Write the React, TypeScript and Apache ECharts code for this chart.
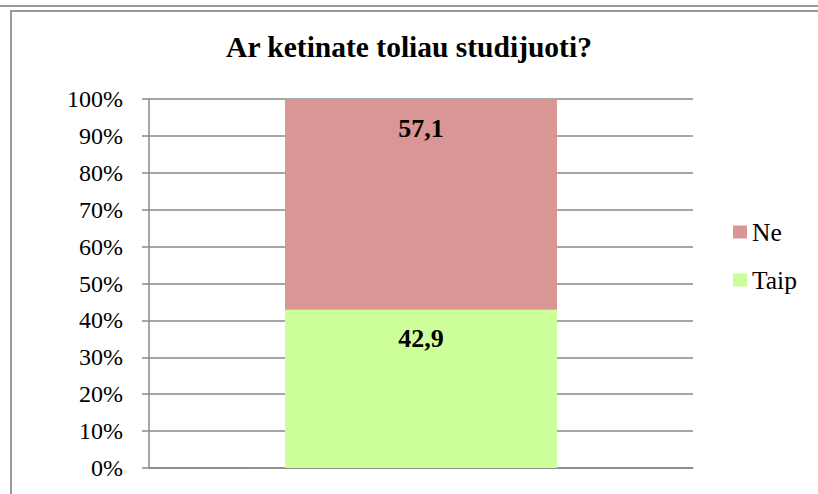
import React, { useEffect, useRef } from "react";
import * as echarts from "echarts";

const categories = [""];
const seriesNames = ["Taip", "Ne"];
const taipValues = [42.9];
const neValues = [57.1];
const legendOrder = ["Ne", "Taip"];
const titleText = "Ar ketinate toliau studijuoti?";

const FONT = "Liberation Serif";
const GRAY = "#888888";

export default function App() {
  const ref = useRef<HTMLDivElement>(null);
  useEffect(() => {
    document.body.style.margin = "0";
    const chart = echarts.init(ref.current!, null, { renderer: "svg" });
    const fmt = (p: any) => String(p.value).replace(".", ",");
    chart.setOption({
      animation: false,
      backgroundColor: "#ffffff",
      textStyle: { fontFamily: FONT },
      title: {
        text: titleText,
        left: "center",
        top: 32,
        padding: 0,
        textStyle: { fontFamily: FONT, fontSize: 29.5, fontWeight: "bold", color: "#000" },
      },
      legend: {
        data: legendOrder,
        orient: "vertical",
        left: 733,
        top: 219,
        padding: 0,
        icon: "rect",
        itemWidth: 14,
        itemHeight: 13,
        itemGap: 22,
        textStyle: { fontFamily: FONT, fontSize: 25.5, color: "#000", lineHeight: 24 },
      },
      grid: { left: 149, right: 125, top: 99, bottom: 26, containLabel: false },
      xAxis: {
        type: "category",
        data: categories,
        axisLine: { show: true, lineStyle: { color: GRAY, width: 1.5 } },
        axisTick: { show: false },
        axisLabel: { show: false },
      },
      yAxis: {
        type: "value",
        min: 0,
        max: 100,
        interval: 10,
        axisLine: { show: true, lineStyle: { color: GRAY, width: 1.5 } },
        axisTick: { show: true, length: 7, lineStyle: { color: GRAY, width: 1.5 } },
        axisLabel: {
          formatter: "{value}%",
          margin: 26,
          fontFamily: FONT,
          fontSize: 24,
          color: "#000",
        },
        splitLine: { show: true, lineStyle: { color: GRAY, width: 1.5 } },
      },
      series: [
        {
          name: seriesNames[0],
          type: "bar",
          stack: "total",
          data: taipValues,
          barWidth: "50%",
          itemStyle: { color: "#ccff99" },
          label: {
            show: true,
            position: "insideTop",
            distance: 16,
            formatter: fmt,
            fontFamily: FONT,
            fontSize: 26,
            fontWeight: "bold",
            color: "#000",
          },
        },
        {
          name: seriesNames[1],
          type: "bar",
          stack: "total",
          data: neValues,
          barWidth: "50%",
          itemStyle: { color: "#d99694" },
          label: {
            show: true,
            position: "insideTop",
            distance: 16,
            formatter: fmt,
            fontFamily: FONT,
            fontSize: 26,
            fontWeight: "bold",
            color: "#000",
          },
        },
      ],
      graphic: [
        {
          type: "line",
          shape: { x1: 0, y1: 6, x2: 818, y2: 6 },
          style: { stroke: "#999999", lineWidth: 2 },
          silent: true,
        },
        {
          type: "line",
          shape: { x1: 10, y1: 11, x2: 818, y2: 11 },
          style: { stroke: "#999999", lineWidth: 2 },
          silent: true,
        },
        {
          type: "line",
          shape: { x1: 11, y1: 10, x2: 11, y2: 494 },
          style: { stroke: "#999999", lineWidth: 2 },
          silent: true,
        },
      ],
    });
    return () => chart.dispose();
  }, []);
  return <div ref={ref} style={{ width: 818, height: 494 }} />;
}
